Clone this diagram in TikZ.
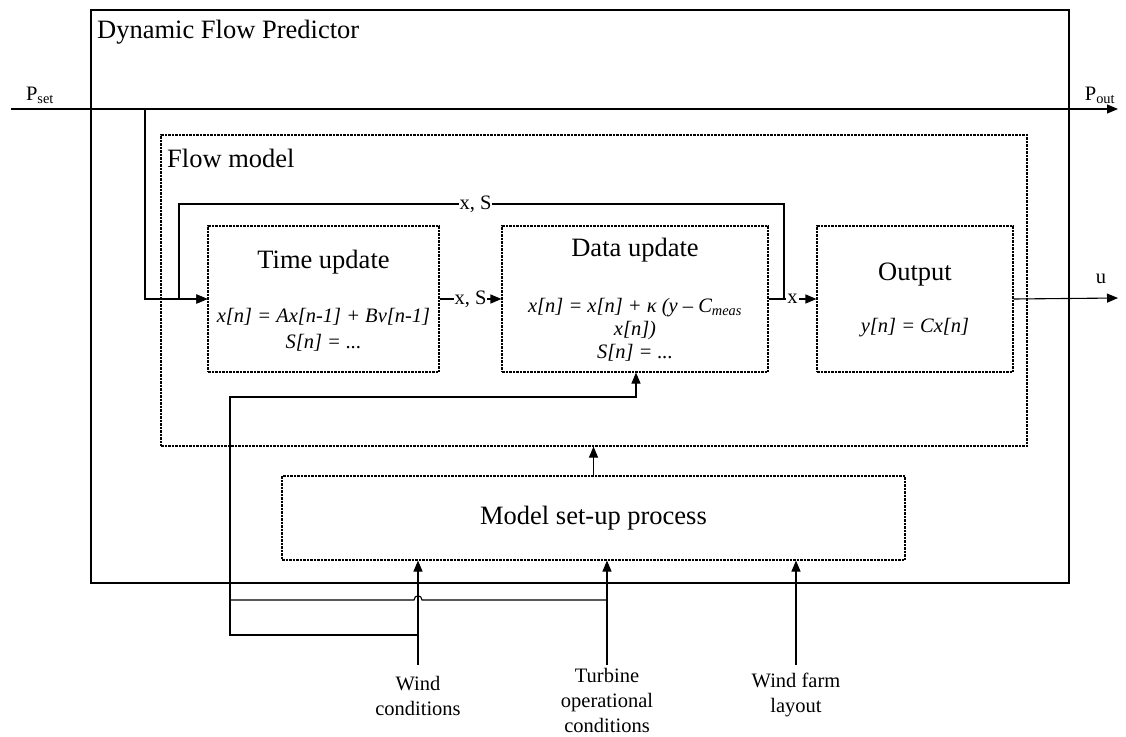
\documentclass[tikz,border=0pt]{standalone}
\usepackage{fontspec}
\setmainfont{Liberation Serif}
\usetikzlibrary{arrows.meta}
\begin{document}
\begin{tikzpicture}[x=1pt,y=-1pt,
  wire/.style={line width=1.1pt},
  arr/.style={wire,-{Triangle[length=11pt,width=9pt]}},
  dbox/.style={draw,line width=1.1pt,dash pattern=on 2.5pt off 1pt,inner sep=0pt},
  sbox/.style={draw,line width=1.4pt,inner sep=0pt},
  title/.style={font=\fontsize{26.5}{31}\selectfont,inner sep=0pt},
  eq/.style={font=\fontsize{20.5}{26}\selectfont\itshape,align=center,inner sep=0pt},
  lbl/.style={font=\fontsize{20.5}{25}\selectfont,align=center,inner sep=0pt},
  wlbl/.style={font=\fontsize{20.5}{24}\selectfont,fill=white,inner sep=1pt}]
\useasboundingbox (0,0) rectangle (1126,736);

% boxes
\node[sbox,minimum width=978pt,minimum height=573pt] (dfp) at (580,296.5) {};
\node[dbox,minimum width=866pt,minimum height=311pt] (fm) at (594,290.5) {};
\node[dbox,minimum width=231pt,minimum height=146pt] (tu) at (323.5,299) {};
\node[dbox,minimum width=266pt,minimum height=146pt] (du) at (635,299) {};
\node[dbox,minimum width=196pt,minimum height=146pt] (out) at (915,299) {};
\node[dbox,minimum width=623pt,minimum height=84pt] (setup) at (593.5,518) {};

% titles
\node[title,anchor=west] (dfpt) at (97,32) {Dynamic Flow Predictor};
\node[title,anchor=west] (fmt) at (167,158) {Flow model};
\node[title] (tut) at (323.5,262) {Time update};
\node[title] (dut) at (635,250) {Data update};
\node[title] (outt) at (915,275) {Output};
\node[title] (setupt) at (593.5,518) {Model set-up process};

% equations
\node[eq] (tue) at (323.5,330) {x[n] = Ax[n-1] + Bv[n-1]\\S[n] = ...};
\node[eq,font=\fontsize{20.5}{23}\selectfont\itshape] (due) at (635,330) {x[n] = x[n] + κ (y – C\textsubscript{meas}\\x[n])\\S[n] = ...};
\node[eq] (oute) at (915,328) {y[n] = Cx[n]};

% input / output labels
\node[lbl] (pset) at (40,95) {P\textsubscript{set}};
\node[lbl] (pout) at (1100,95) {P\textsubscript{out}};
\node[lbl] (ul) at (1101,279) {u};
\node[lbl] (wl) at (418,695.5) {Wind\\conditions};
\node[lbl] (tl) at (607,700.5) {Turbine\\operational\\conditions};
\node[lbl] (ll) at (796,694.5) {Wind farm\\layout};

% coordinates
\coordinate (pin) at (11,109);
\coordinate (pend) at (1118,109);
\coordinate (br) at (145,109);
\coordinate (fbR) at (784,298);
\coordinate (fbRT) at (784,204);
\coordinate (fbLT) at (179,204);
\coordinate (fbL) at (179,298);
\coordinate (uend) at (1118,298);
\coordinate (wt) at (418,665);
\coordinate (tt) at (607,665);
\coordinate (lt) at (796,665);
\coordinate (wj) at (418,635);
\coordinate (c1) at (230,635);
\coordinate (c2) at (230,397);
\coordinate (c3) at (636,397);
\coordinate (tj) at (607,600);
\coordinate (h1) at (422,600);
\coordinate (h2) at (414,600);
\coordinate (c4) at (230,600);

% connectors
\draw[arr] (pin) -- (pend);
\draw[arr] (br) |- (tu.west);
\draw[arr] (tu.west -| fbL) -- (tu.west);
\draw[wire] (fbR) -- (fbRT) -- node[wlbl,pos=0.51]{x, S} (fbLT) -- (fbL);
\draw[arr] (tu.east) -- node[wlbl]{x, S} (du.west);
\draw[arr] (du.east) -- node[wlbl,pos=0.5]{x} (out.west);
\draw[arr] (out.east) -- (uend);
\draw[arr] (setup.north) -- (setup.north |- fm.south);
\draw[arr] (wt) -- (wt |- setup.south);
\draw[arr] (tt) -- (tt |- setup.south);
\draw[arr] (lt) -- (lt |- setup.south);
\draw[arr] (wj) -- (c1) -- (c2) -- (c3) -- (c3 |- du.south);
\draw[wire] (tj) -- (h1) .. controls (422,594.5) and (414,594.5) .. (h2) -- (c4);
\end{tikzpicture}
\end{document}
